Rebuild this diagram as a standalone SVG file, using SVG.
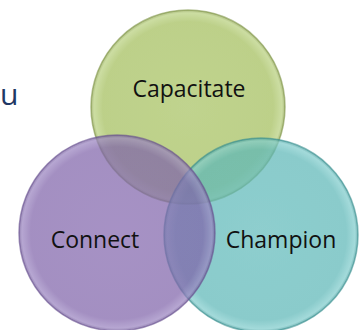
<svg xmlns="http://www.w3.org/2000/svg" width="363" height="330" viewBox="0 0 363 330">
<defs>
<radialGradient id="gG" cx="0.5" cy="0.5" r="0.5">
<stop offset="0" stop-color="#a7c262"/><stop offset="0.88" stop-color="#a3be5c"/><stop offset="0.97" stop-color="#b8d07e"/><stop offset="1" stop-color="#8aa04c"/>
</radialGradient>
<radialGradient id="gP" cx="0.5" cy="0.5" r="0.5">
<stop offset="0" stop-color="#8468ae"/><stop offset="0.88" stop-color="#8064aa"/><stop offset="0.97" stop-color="#9a84c0"/><stop offset="1" stop-color="#6c5494"/>
</radialGradient>
<radialGradient id="gT" cx="0.5" cy="0.5" r="0.5">
<stop offset="0" stop-color="#62bbbb"/><stop offset="0.88" stop-color="#5db7b7"/><stop offset="0.97" stop-color="#80cccc"/><stop offset="1" stop-color="#3f9898"/>
</radialGradient>
<filter id="soft" x="-10%" y="-10%" width="120%" height="120%"><feGaussianBlur stdDeviation="0.7"/></filter>
</defs>
<style>
.c{fill-opacity:0.72;stroke-width:1.5;stroke-opacity:0.6;filter:url(#soft)}
.lbl{font-family:"Open Sans","Noto Sans",sans-serif;font-size:23px;fill:#111;text-anchor:middle}
</style>
<rect width="363" height="330" fill="#fff"/>
<text x="0" y="105" style="font-family:'Open Sans','Noto Sans',sans-serif;font-size:30px;fill:#1f3864">u</text>
<g id="capacitate"><circle class="c" cx="188" cy="107" r="97" fill="url(#gG)" stroke="#7f9448"/></g>
<g id="champion"><circle class="c" cx="261" cy="235" r="97" fill="url(#gT)" stroke="#3a8f8f"/></g>
<g id="connect"><circle class="c" cx="117" cy="233" r="98" fill="url(#gP)" stroke="#67508f"/></g>
<g id="connectors"></g>
<g id="labels">
<text class="lbl" x="189" y="97">Capacitate</text>
<text class="lbl" x="95" y="248">Connect</text>
<text class="lbl" x="281" y="248">Champion</text>
</g>
</svg>
